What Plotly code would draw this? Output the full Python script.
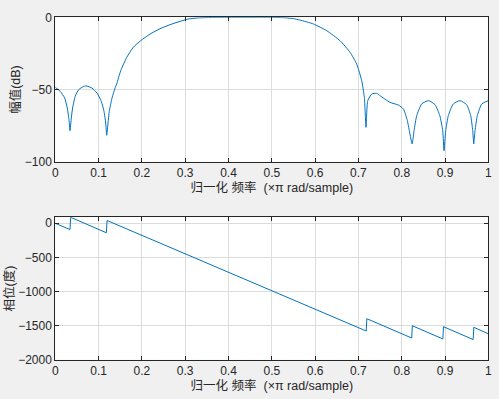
import plotly.graph_objects as go

# Magnitude response (normalized frequency, dB)
mag_freq = [0.0, 0.0116, 0.0217, 0.0277, 0.0316, 0.034, 0.037, 0.040, 0.046, 0.054, 0.0656, 0.0732,
            0.0848, 0.0963, 0.1063, 0.1125, 0.1164, 0.1187, 0.1217, 0.1247, 0.131, 0.1386, 0.1418,
            0.151, 0.165, 0.180, 0.197, 0.2187, 0.2418, 0.265, 0.288, 0.307, 0.33, 0.36, 0.40,
            0.50, 0.53, 0.55, 0.565, 0.596, 0.627, 0.6575, 0.6806, 0.696, 0.7076, 0.7137, 0.7176,
            0.7215, 0.7307, 0.742, 0.75, 0.773, 0.792, 0.804, 0.813, 0.819, 0.824, 0.8285, 0.8346,
            0.846, 0.8615, 0.877, 0.888, 0.8947, 0.8977, 0.9016, 0.9076, 0.919, 0.9346, 0.950,
            0.9593, 0.964, 0.9663, 0.9693, 0.9746, 0.9848, 1.0]
mag_db = [-48.5, -51.3, -55.9, -62.8, -70.9, -78.5, -69.7, -62.8, -54.7, -50.1, -47.8, -47.6,
          -49.0, -52.4, -58.2, -65.1, -73.2, -81.7, -73.2, -65.1, -55.9, -48.5, -46.2,
          -37.0, -27.7, -20.8, -16.2, -11.6, -7.9, -5.1, -2.8, -1.2, -0.4, -0.1, 0.0,
          0.0, -0.3, -0.9, -1.9, -4.6, -9.3, -16.2, -24.2, -32.3, -43.9, -55.4, -76.2,
          -57.8, -53.1, -52.6, -54.3, -58.9, -60.7, -63.5, -71.6, -80.8, -87.7, -78.5, -68.1,
          -60.0, -57.7, -60.5, -68.1, -78.5, -92.4, -78.5, -68.1, -60.0, -57.7, -60.5,
          -68.1, -78.5, -87.7, -78.5, -68.1, -60.0, -57.7]

# Phase response (normalized frequency, degrees)
ph_freq = [0.0, 0.034, 0.0355, 0.118, 0.1195, 0.718, 0.7195, 0.823, 0.8245, 0.895, 0.8965,
           0.965, 0.9665, 1.0]
ph_deg = [0, -92, 88, -139, 41, -1579, -1399, -1682, -1502, -1696, -1516, -1705, -1525, -1620]

x_ticks = [0, 0.1, 0.2, 0.3, 0.4, 0.5, 0.6, 0.7, 0.8, 0.9, 1]
x_ticklabels = ["0", "0.1", "0.2", "0.3", "0.4", "0.5", "0.6", "0.7", "0.8", "0.9", "1"]
mag_ticks = [-100, -50, 0]
ph_ticks = [-2000, -1500, -1000, -500, 0]

x_title = "归一化 频率  (×π rad/sample)"
mag_title = "幅值(dB)"
ph_title = "相位(度)"

LINE = "#0072BD"
AX = "#262626"
GRID = "#dcdcdc"
FONT = "Liberation Sans, Arial, Noto Sans CJK SC, sans-serif"

fig = go.Figure()
fig.add_trace(go.Scatter(x=mag_freq, y=mag_db, mode="lines",
                         line=dict(color=LINE, width=1, shape="spline", smoothing=0.5),
                         xaxis="x", yaxis="y", showlegend=False))
fig.add_trace(go.Scatter(x=ph_freq, y=ph_deg, mode="lines",
                         line=dict(color=LINE, width=1), xaxis="x2", yaxis="y2", showlegend=False))

common_x = dict(range=[0, 1], tickvals=x_ticks, ticktext=x_ticklabels, ticks="inside", ticklen=4,
                tickcolor=AX, showline=True, linecolor=AX, linewidth=1, mirror="ticks",
                showgrid=True, gridcolor=GRID, gridwidth=1, zeroline=False, automargin=False,
                tickfont=dict(size=12, color=AX, family=FONT),
                title=dict(text=x_title, font=dict(size=12.5, color=AX, family=FONT), standoff=2))
common_y = dict(ticks="inside", ticklen=4, tickcolor=AX, showline=True, linecolor=AX, linewidth=1,
                mirror="ticks", showgrid=True, gridcolor=GRID, gridwidth=1, zeroline=False,
                automargin=False, tickfont=dict(size=12, color=AX, family=FONT))

fig.update_layout(
    width=499, height=399,
    margin=dict(l=0, r=0, t=0, b=0),
    paper_bgcolor="#f0f0f0", plot_bgcolor="white",
    font=dict(family=FONT, color=AX),
    xaxis=dict(domain=[0.1108, 0.9786], anchor="y", **common_x),
    yaxis=dict(domain=[0.5947, 0.9566], anchor="x", range=[-100, 0], tickvals=mag_ticks,
               title=dict(text=mag_title, font=dict(size=12.5, color=AX, family=FONT), standoff=1),
               **common_y),
    xaxis2=dict(domain=[0.1108, 0.9786], anchor="y2", **common_x),
    yaxis2=dict(domain=[0.0985, 0.4554], anchor="x2", range=[-2000, 88], tickvals=ph_ticks,
                title=dict(text=ph_title, font=dict(size=12.5, color=AX, family=FONT), standoff=0),
                **common_y),
)

fig.write_html("out.html")
